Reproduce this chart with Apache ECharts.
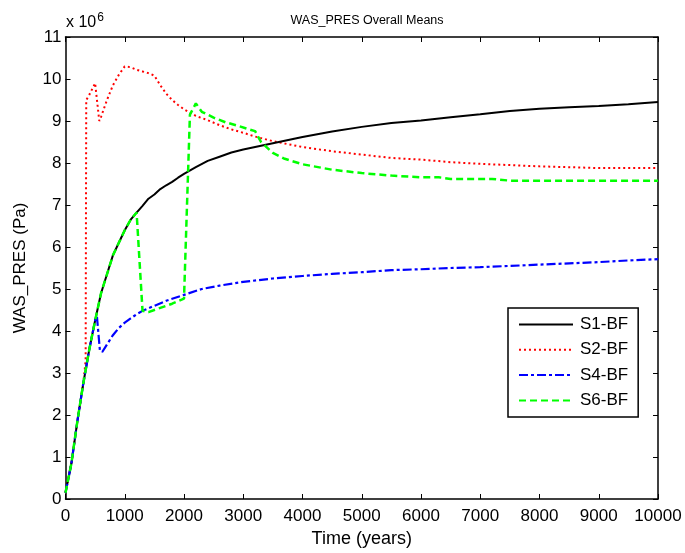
<!DOCTYPE html>
<html><head><meta charset="utf-8">
<script src="https://cdn.jsdelivr.net/npm/echarts@6/dist/echarts.min.js"></script>
<style>html,body{margin:0;padding:0;background:#fff;overflow:hidden}#c{width:685px;height:553px}</style>
</head><body><div id="c"></div>
<script>
// Time in years, pressure in units of 1e6 Pa
const s1Time = [0,100,200,300,400,500,600,700,800,900,1000,1100,1200,1300,1400,1500,1600,1700,1800,1900,2000,2200,2400,2600,2800,3000,3500,4000,4500,5000,5500,6000,6500,7000,7500,8000,8500,9000,9500,10000];
const s1Vals = [0.15,0.85,1.85,2.75,3.55,4.25,4.9,5.35,5.8,6.1,6.4,6.65,6.82,6.98,7.15,7.25,7.38,7.47,7.55,7.65,7.74,7.9,8.05,8.15,8.25,8.32,8.47,8.62,8.75,8.86,8.95,9.01,9.09,9.16,9.24,9.29,9.33,9.36,9.4,9.45];

const s2Time = [0,100,200,300,340,350,400,500,530,570,600,700,800,900,1000,1100,1200,1300,1400,1500,1600,1700,1800,1900,2000,2200,2400,2600,2800,3000,3200,3500,4000,4500,5000,5500,6000,6500,7000,7500,8000,8500,9000,9500,10000];
const s2Vals = [0.15,0.85,1.85,2.75,3.3,9.5,9.62,9.9,9.93,9.0,9.1,9.5,9.85,10.1,10.3,10.28,10.22,10.18,10.14,10.08,9.85,9.65,9.5,9.38,9.28,9.12,9.02,8.9,8.8,8.72,8.63,8.52,8.38,8.28,8.2,8.12,8.08,8.02,7.98,7.95,7.92,7.9,7.88,7.88,7.88];

const s4Time = [0,100,200,300,400,500,530,580,620,700,800,900,1000,1100,1200,1300,1500,1700,2000,2300,2600,3000,3500,4000,4500,5000,5500,6000,6500,7000,7500,8000,8500,9000,9500,10000];
const s4Vals = [0.15,0.85,1.85,2.75,3.55,4.25,4.35,3.55,3.5,3.68,3.9,4.07,4.2,4.3,4.4,4.48,4.6,4.72,4.86,5.0,5.08,5.17,5.25,5.31,5.36,5.4,5.45,5.47,5.5,5.52,5.55,5.58,5.61,5.64,5.68,5.71];

const s6Time = [0,100,200,300,400,500,600,700,800,900,1000,1100,1200,1300,1400,1600,1800,2000,2100,2200,2300,2500,2700,2900,3100,3200,3300,3500,3700,4000,4500,5000,5500,6000,6300,6500,7200,7500,8000,8500,9000,9500,10000];
const s6Vals = [0.15,0.85,1.85,2.75,3.55,4.25,4.9,5.35,5.8,6.1,6.4,6.65,6.82,4.48,4.45,4.55,4.65,4.77,9.15,9.42,9.22,9.08,8.97,8.89,8.8,8.76,8.5,8.24,8.1,7.97,7.84,7.76,7.7,7.66,7.66,7.62,7.62,7.58,7.58,7.58,7.58,7.58,7.58];

const seriesNames = ['S1-BF','S2-BF','S4-BF','S6-BF'];
const xTicks = [0,1000,2000,3000,4000,5000,6000,7000,8000,9000,10000];
const yTicks = [0,1,2,3,4,5,6,7,8,9,10,11];

function zip(t, v) { return t.map((x, i) => [x, v[i]]); }

const FONT = '"Liberation Sans", Arial, sans-serif';
const chart = echarts.init(document.getElementById('c'), null, {renderer: 'canvas', width: 685, height: 553});

const axisCommon = {
  axisLine: {show: true, onZero: false, lineStyle: {color: '#000', width: 1.5}},
  axisTick: {show: true, inside: true, length: 5, lineStyle: {color: '#000', width: 1}},
  splitLine: {show: false}
};

chart.setOption({
  animation: false,
  backgroundColor: '#fff',
  title: {
    text: 'WAS_PRES Overall Means', left: 362, top: 9, textAlign: 'center',
    textStyle: {fontFamily: FONT, fontSize: 12.5, fontWeight: 'normal', color: '#000'}
  },
  grid: {left: 65.5, top: 37, width: 592.5, height: 467, containLabel: false},
  legend: {
    orient: 'vertical', left: 508, top: 308,
    data: seriesNames,
    itemWidth: 54, itemHeight: 14, itemGap: 8.3,
    padding: [8, 10, 8, 10],
    borderColor: '#000', borderWidth: 1.5,
    itemStyle: {color: 'transparent', borderWidth: 0, opacity: 0},
    textStyle: {fontFamily: FONT, fontSize: 17, color: '#000', padding: [0, 0, 0, 2]},
    backgroundColor: '#fff'
  },
  xAxis: [
    Object.assign({
      type: 'value', min: 0, max: 10000, interval: 1000, position: 'bottom',
      name: 'Time (years)', nameLocation: 'middle', nameGap: 31,
      nameTextStyle: {fontFamily: FONT, fontSize: 18, color: '#000'},
      axisLabel: {show: true, margin: 9, fontFamily: FONT, fontSize: 17, color: '#000',
        formatter: v => xTicks.includes(v) ? String(v) : ''}
    }, axisCommon),
    Object.assign({
      type: 'value', min: 0, max: 10000, interval: 1000, position: 'top',
      axisLabel: {show: false}
    }, axisCommon)
  ],
  yAxis: [
    Object.assign({
      type: 'value', min: 0, max: 11, interval: 1, position: 'left',
      name: 'WAS_PRES (Pa)', nameLocation: 'middle', nameGap: 37,
      nameTextStyle: {fontFamily: FONT, fontSize: 17, color: '#000'},
      axisLabel: {show: true, margin: 4, fontFamily: FONT, fontSize: 17, color: '#000',
        formatter: v => yTicks.includes(v) ? String(v) : ''}
    }, axisCommon),
    Object.assign({
      type: 'value', min: 0, max: 11, interval: 1, position: 'right',
      axisLabel: {show: false}
    }, axisCommon)
  ],
  graphic: [{
    type: 'text', left: 66, top: 12,
    style: {
      text: 'x 10{sup|6}', fontFamily: FONT, fontSize: 16, fill: '#000',
      rich: {sup: {fontFamily: FONT, fontSize: 12, verticalAlign: 'top', padding: [0, 0, 10, 1]}}
    }
  }],
  series: [
    {name: 'S1-BF', type: 'line', showSymbol: false, symbol: 'none', data: zip(s1Time, s1Vals),
     lineStyle: {color: '#000', width: 2, type: 'solid'}, itemStyle: {color: '#000'}, z: 4},
    {name: 'S2-BF', type: 'line', showSymbol: false, symbol: 'none', data: zip(s2Time, s2Vals),
     lineStyle: {color: '#ff0000', width: 2, type: [2, 3]}, itemStyle: {color: '#ff0000'}, z: 3},
    {name: 'S4-BF', type: 'line', showSymbol: false, symbol: 'none', data: zip(s4Time, s4Vals),
     lineStyle: {color: '#0000ff', width: 2.2, type: [9, 3, 3, 3]}, itemStyle: {color: '#0000ff'}, z: 5},
    {name: 'S6-BF', type: 'line', showSymbol: false, symbol: 'none', data: zip(s6Time, s6Vals),
     lineStyle: {color: '#00ff00', width: 2.5, type: [7, 4]}, itemStyle: {color: '#00ff00'}, z: 6}
  ]
});
</script>
</body></html>
